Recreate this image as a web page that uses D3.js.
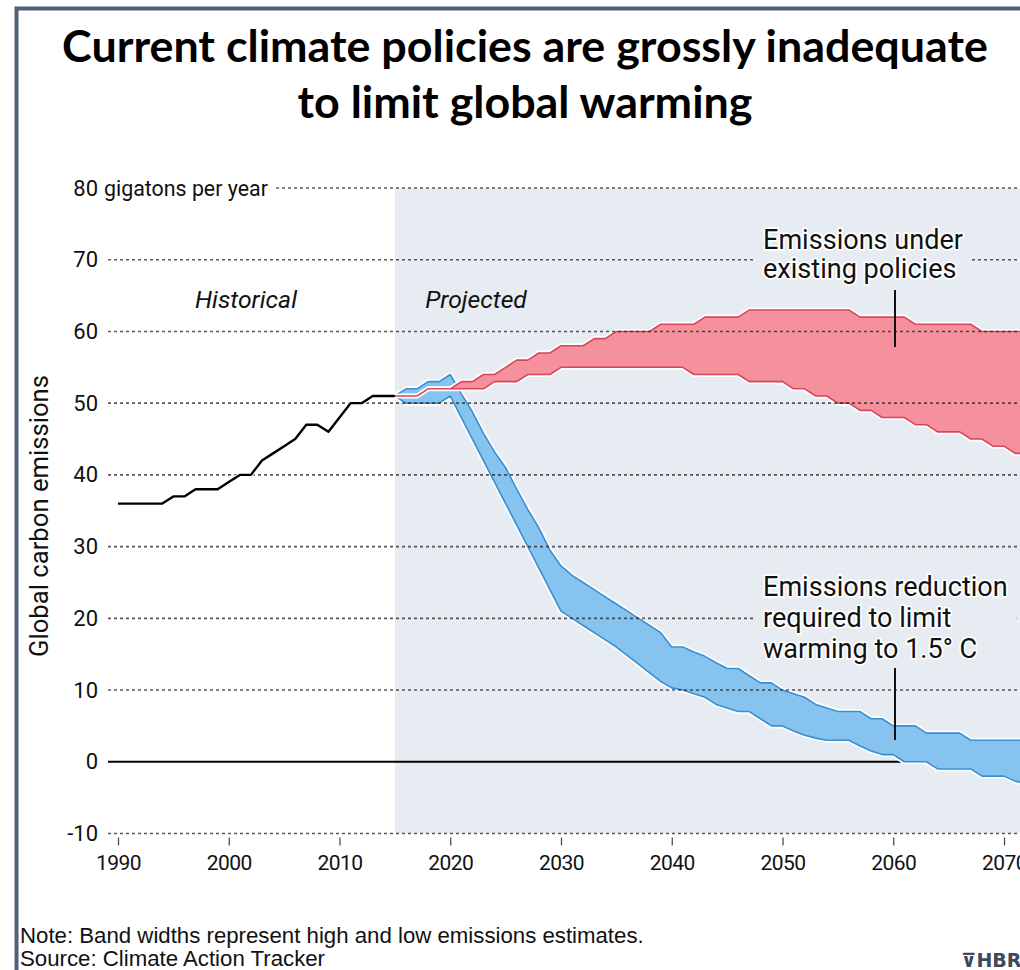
<!DOCTYPE html>
<html><head><meta charset="utf-8">
<script src="https://cdn.jsdelivr.net/npm/d3@7"></script>
<style>
html,body{margin:0;padding:0;background:#fff;}
svg{display:block;}
</style></head><body>
<svg id="chart" width="1020" height="970"></svg>
<script>
// ---------------- data ----------------
const histYears = d3.range(1990, 2016);
const histValues = [36,36,36,36,36,37,37,38,38,38,39,40,40,42,43,44,45,47,47,46,48,50,50,51,51,51];

const projYears = d3.range(2015, 2073);
const policyHigh = [51,51,51,52,52,52,53,53,54,54,
                    55,56,56,57,57,58,58,58,59,59,
                    60,60,60,60,61,61,61,61,62,62,
                    62,62,63,63,63,63,63,63,63,63,
                    63,63,62,62,62,62,62,61,61,61,
                    61,61,61,60,60,60,60,60];
const policyLow  = [51,51,51,52,52,52,52,52,52,53,
                    53,53,54,54,54,55,55,55,55,55,
                    55,55,55,55,55,55,55,54,54,54,
                    54,54,53,53,53,53,52,52,51,51,
                    50,50,49,49,48,48,48,47,47,46,
                    46,46,45,45,44,44,43,43];
const targetHigh = [51,52,52,53,53,54,51.3,48.8,45.8,43.2,
                    41,38,35.2,32.6,29.5,27.3,26,25,24,23,
                    22,21,20,19,18,16,16,15.3,14.7,13.8,
                    13,13,12,11,11,10,9.5,9,8,7.5,
                    7,7,7,6,6,5,5,5,4,4,
                    4,4,3,3,3,3,3,3];
const targetLow  = [51,50,50,50,50,51,48,45,42,39,
                    36,33,30,27,24,21,20,19,18,17,
                    16,14.8,13.6,12.4,11.2,10.3,10,9.5,9,8,
                    7.5,7,7,6,5,5,4.3,3.7,3.3,3,
                    3,3,2.2,1.5,1,1,0,0,0,-1,
                    -1,-1,-1,-2,-2,-2,-2.7,-3];

const yTicks = [-10,0,10,20,30,40,50,60,70,80];
const xTicks = [1990,2000,2010,2020,2030,2040,2050,2060,2070];
const projectionStart = 2015;

const titleLines = ["Current climate policies are grossly inadequate", "to limit global warming"];
const yTopSuffix = "gigatons per year";
const yAxisTitle = "Global carbon emissions";
const periodLabels = ["Historical", "Projected"];
const policyNote = ["Emissions under", "existing policies"];
const targetNote = ["Emissions reduction", "required to limit", "warming to 1.5° C"];
const footerLines = ["Note: Band widths represent high and low emissions estimates.", "Source: Climate Action Tracker"];
const logoText = "⊽HBR";

// ---------------- layout ----------------
const W = 1020, H = 970;
const svg = d3.select("#chart");
const x = d3.scaleLinear().domain([1990, 2070]).range([118, 1004]);
const y = d3.scaleLinear().domain([-10, 80]).range([833.5, 188]);

const shade = "#e7ebf2";
const SANS = "Roboto, 'Liberation Sans', Arial, sans-serif";

function fit(sel, w) {
  const fs = parseFloat(sel.attr("font-size"));
  const cur = sel.node().getComputedTextLength();
  sel.attr("font-size", fs * w / cur);
  return fs * w / cur;
}

// frame
svg.append("path").attr("d", `M16.5,${H + 5} L16.5,8.5 L${W + 5},8.5`)
  .attr("fill", "none").attr("stroke", "#52607a").attr("stroke-width", 4);

// title
const t1 = svg.append("text").attr("x", 525).attr("y", 62).attr("text-anchor", "middle")
  .attr("font-family", "Lato, 'Open Sans', sans-serif").attr("font-weight", 700)
  .attr("font-size", 38).attr("fill", "#000").text(titleLines[0]);
const tfs = fit(t1, 926);
svg.append("text").attr("x", 525).attr("y", 118).attr("text-anchor", "middle")
  .attr("font-family", "Lato, 'Open Sans', sans-serif").attr("font-weight", 700)
  .attr("font-size", tfs).attr("fill", "#000").text(titleLines[1]);

// projected shading
svg.append("rect").attr("x", x(projectionStart)).attr("y", y(80))
  .attr("width", W - x(projectionStart)).attr("height", y(-10) - y(80)).attr("fill", shade);

// zero line
svg.append("line").attr("x1", 108).attr("x2", W).attr("y1", y(0)).attr("y2", y(0))
  .attr("stroke", "#000").attr("stroke-width", 2);

// bands
function band(hi, lo, fill, stroke) {
  const data = projYears.map((yr, i) => ({yr, hi: hi[i], lo: lo[i]}));
  const area = d3.area().x(d => x(d.yr)).y0(d => y(d.lo)).y1(d => y(d.hi));
  svg.append("path").datum(data).attr("d", area)
    .attr("fill", "#fff").attr("stroke", "#fff").attr("stroke-width", 5).attr("stroke-linejoin", "round");
  svg.append("path").datum(data).attr("d", area)
    .attr("fill", fill).attr("stroke", stroke).attr("stroke-width", 1.6).attr("stroke-linejoin", "round");
}
band(targetHigh, targetLow, "#86c4ef", "#3a8ed2");
band(policyHigh, policyLow, "#f4919d", "#d6465d");

// gridlines
yTicks.filter(v => v !== 0).forEach(v => {
  svg.append("line").attr("x1", v === 80 ? 276 : 108).attr("x2", W)
    .attr("y1", y(v)).attr("y2", y(v))
    .attr("stroke", "#222").attr("stroke-opacity", 0.75).attr("stroke-width", 1.6)
    .attr("stroke-dasharray", "3,3");
});

// historical line
const hist = histYears.map((yr, i) => ({yr, v: histValues[i]}));
const line = d3.line().x(d => x(d.yr)).y(d => y(d.v));
svg.append("path").datum(hist).attr("d", line).attr("fill", "none")
  .attr("stroke", "#fff").attr("stroke-width", 5).attr("stroke-linejoin", "round").attr("stroke-opacity", 0.8);
svg.append("path").datum(hist).attr("d", line).attr("fill", "none")
  .attr("stroke", "#000").attr("stroke-width", 2.4).attr("stroke-linejoin", "round");

// y tick labels
yTicks.forEach(v => {
  svg.append("text").attr("x", 98).attr("y", y(v) + 7.5).attr("text-anchor", "end")
    .attr("font-family", SANS).attr("font-size", 22).attr("fill", "#111").text(v);
});
const suf = svg.append("text").attr("x", 104).attr("y", y(80) + 7.5)
  .attr("font-family", SANS).attr("font-size", 21).attr("fill", "#111").text(yTopSuffix);
fit(suf, 164);

// x ticks
const xa = svg.append("g").attr("transform", `translate(0,${y(-10) + 4})`)
  .call(d3.axisBottom(x).tickValues(xTicks).tickFormat(d3.format("d")).tickSize(8).tickPadding(10));
xa.select(".domain").remove();
xa.selectAll(".tick line").attr("stroke", "#444").attr("stroke-width", 1.2);
xa.selectAll(".tick text").attr("font-family", SANS).attr("font-size", 21).attr("fill", "#111")
  .attr("letter-spacing", -0.6);

// axis title
const at = svg.append("text").attr("transform", "translate(48,516) rotate(-90)").attr("text-anchor", "middle")
  .attr("font-family", SANS).attr("font-size", 24).attr("fill", "#111").text(yAxisTitle);
fit(at, 282);

// period labels
const p1 = svg.append("text").attr("x", 246).attr("y", 308).attr("text-anchor", "middle")
  .attr("font-family", SANS).attr("font-style", "italic").attr("font-size", 22).attr("fill", "#111").text(periodLabels[0]);
const pfs = fit(p1, 102);
svg.append("text").attr("x", 476).attr("y", 308).attr("text-anchor", "middle")
  .attr("font-family", SANS).attr("font-style", "italic").attr("font-size", pfs).attr("fill", "#111").text(periodLabels[1]);

// annotations
function note(lines, x0, y0, lh, fs) {
  const g = svg.append("g");
  const bg = g.append("rect").attr("fill", shade);
  const tx = lines.map((s, i) => g.append("text").attr("x", x0).attr("y", y0 + i * lh)
    .attr("font-family", SANS).attr("font-size", fs).attr("fill", "#111")
    .attr("stroke", "#fff").attr("stroke-width", 3.5).attr("stroke-linejoin", "round")
    .attr("paint-order", "stroke").text(s));
  let x1 = Infinity, y1 = Infinity, x2 = -Infinity, y2 = -Infinity;
  tx.forEach(t => { const b = t.node().getBBox(); x1 = Math.min(x1, b.x); y1 = Math.min(y1, b.y);
    x2 = Math.max(x2, b.x + b.width); y2 = Math.max(y2, b.y + b.height); });
  bg.attr("x", x1 - 9).attr("y", y1).attr("width", x2 - x1 + 18).attr("height", y2 - y1);
  return tx;
}
const probe = svg.append("text").attr("font-family", SANS).attr("font-size", 24).text(policyNote[0]);
const nfs = fit(probe, 200); probe.remove();
note(policyNote, 763, 249, 29, nfs);
note(targetNote, 763, 596, 31, nfs);

// leader lines
svg.append("line").attr("x1", 895).attr("x2", 895).attr("y1", 290).attr("y2", 347)
  .attr("stroke", "#111").attr("stroke-width", 2);
svg.append("line").attr("x1", 895).attr("x2", 895).attr("y1", 668).attr("y2", 740)
  .attr("stroke", "#111").attr("stroke-width", 2);

// footer
const f1 = svg.append("text").attr("x", 20).attr("y", 943)
  .attr("font-family", "'Liberation Sans', Arial, sans-serif").attr("font-size", 20).attr("fill", "#111").text(footerLines[0]);
const ffs = fit(f1, 624);
svg.append("text").attr("x", 20).attr("y", 966)
  .attr("font-family", "'Liberation Sans', Arial, sans-serif").attr("font-size", ffs).attr("fill", "#111").text(footerLines[1]);
svg.append("text").attr("x", 961).attr("y", 967)
  .attr("font-family", "'DejaVu Sans', sans-serif").attr("font-weight", 700).attr("font-size", 19)
  .attr("fill", "#3d4a5c").text(logoText);
</script>
</body></html>
